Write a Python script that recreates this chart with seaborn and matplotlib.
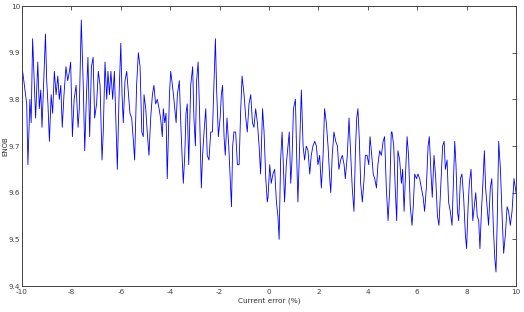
import matplotlib
matplotlib.use("Agg")
import matplotlib.pyplot as plt
import seaborn as sns
import numpy as np
import pandas as pd

# ---- data (Current error %, ENOB) ----
x_seg1 = [-10.00, -9.95, -9.88, -9.81, -9.76, -9.68, -9.63, -9.57, -9.50, -9.45, -9.36, -9.30, -9.24, -9.19, -9.14,
          -9.05, -9.00, -8.95, -8.89, -8.82, -8.76, -8.69, -8.62, -8.55, -8.49, -8.43, -8.37, -8.30, -8.22, -8.15,
          -8.08, -8.03, -7.96, -7.89, -7.81, -7.73, -7.68, -7.60, -7.52, -7.46, -7.39, -7.33, -7.26, -7.19, -7.12,
          -7.06, -6.98, -6.91, -6.84, -6.76, -6.71, -6.64, -6.57, -6.52, -6.46, -6.40, -6.33, -6.26, -6.19, -6.14,
          -6.07, -6.00, -5.95, -5.90, -5.83, -5.76, -5.69, -5.63, -5.56, -5.49, -5.44, -5.36, -5.29, -5.22, -5.15,
          -5.09]
enob_seg1 = [9.87, 9.85, 9.82, 9.79, 9.66, 9.80, 9.75, 9.93, 9.83, 9.76, 9.88, 9.78, 9.82, 9.74, 9.81,
             9.94, 9.84, 9.79, 9.71, 9.81, 9.77, 9.86, 9.81, 9.85, 9.80, 9.83, 9.74, 9.81, 9.87, 9.84,
             9.86, 9.88, 9.72, 9.80, 9.83, 9.74, 9.78, 9.97, 9.83, 9.69, 9.81, 9.89, 9.72, 9.87, 9.89,
             9.76, 9.79, 9.86, 9.83, 9.67, 9.73, 9.88, 9.80, 9.86, 9.81, 9.86, 9.80, 9.86, 9.74, 9.65,
             9.81, 9.92, 9.81, 9.75, 9.84, 9.86, 9.81, 9.77, 9.76, 9.71, 9.67, 9.83, 9.90, 9.87, 9.73,
             9.72]

x_seg2 = [-5.06, -4.99, -4.93, -4.86, -4.79, -4.72, -4.66, -4.59, -4.52, -4.45, -4.39, -4.32, -4.28, -4.22, -4.17,
          -4.12, -4.03, -3.98, -3.91, -3.85, -3.76, -3.71, -3.63, -3.58, -3.52, -3.47, -3.41, -3.36, -3.31, -3.25,
          -3.17, -3.09, -3.04, -2.98, -2.93, -2.87, -2.81, -2.74, -2.69, -2.63, -2.56, -2.50, -2.43, -2.36, -2.29,
          -2.23, -2.17, -2.12, -2.05, -1.98, -1.93, -1.88, -1.82, -1.77, -1.70, -1.63, -1.58, -1.52, -1.47, -1.42,
          -1.35, -1.28, -1.21, -1.15, -1.09, -1.01, -0.94, -0.88, -0.81, -0.74, -0.67, -0.61, -0.54, -0.47, -0.40,
          -0.34, -0.26, -0.20, -0.13, -0.07]
enob_seg2 = [9.81, 9.78, 9.73, 9.68, 9.76, 9.81, 9.83, 9.79, 9.80, 9.78, 9.76, 9.72, 9.78, 9.75, 9.77,
             9.63, 9.81, 9.86, 9.83, 9.80, 9.75, 9.81, 9.84, 9.76, 9.68, 9.62, 9.68, 9.77, 9.79, 9.66,
             9.83, 9.87, 9.76, 9.70, 9.84, 9.88, 9.77, 9.61, 9.68, 9.73, 9.78, 9.68, 9.67, 9.73, 9.73,
             9.83, 9.93, 9.82, 9.72, 9.76, 9.81, 9.83, 9.72, 9.68, 9.76, 9.70, 9.64, 9.57, 9.70, 9.73,
             9.73, 9.66, 9.66, 9.77, 9.85, 9.81, 9.76, 9.73, 9.79, 9.81, 9.75, 9.74, 9.78, 9.75, 9.70,
             9.64, 9.78, 9.73, 9.63, 9.58]

x_seg3 = [-0.04, 0.03, 0.09, 0.16, 0.23, 0.30, 0.36, 0.41, 0.47, 0.53, 0.58, 0.63, 0.70, 0.77, 0.82,
          0.88, 0.93, 0.99, 1.07, 1.12, 1.17, 1.24, 1.31, 1.38, 1.44, 1.51, 1.58, 1.65, 1.71, 1.78,
          1.85, 1.92, 1.98, 2.05, 2.12, 2.19, 2.25, 2.32, 2.39, 2.46, 2.50, 2.56, 2.63, 2.70, 2.77,
          2.83, 2.90, 2.97, 3.04, 3.09, 3.17, 3.24, 3.31, 3.37, 3.44, 3.50, 3.55, 3.60, 3.66, 3.71,
          3.78, 3.85, 3.90, 3.97, 4.04, 4.09, 4.16, 4.22, 4.28, 4.35, 4.41, 4.48, 4.55, 4.62, 4.68,
          4.75, 4.82, 4.89, 4.95]
enob_seg3 = [9.59, 9.66, 9.62, 9.64, 9.65, 9.58, 9.55, 9.50, 9.67, 9.73, 9.66, 9.58, 9.66, 9.70, 9.73,
             9.62, 9.67, 9.78, 9.80, 9.68, 9.58, 9.70, 9.82, 9.70, 9.67, 9.70, 9.69, 9.64, 9.68, 9.70,
             9.71, 9.70, 9.66, 9.68, 9.61, 9.68, 9.78, 9.75, 9.70, 9.63, 9.60, 9.68, 9.73, 9.71, 9.70,
             9.65, 9.67, 9.68, 9.66, 9.63, 9.68, 9.76, 9.68, 9.61, 9.56, 9.69, 9.76, 9.78, 9.71, 9.62,
             9.58, 9.63, 9.68, 9.68, 9.66, 9.72, 9.68, 9.64, 9.63, 9.61, 9.66, 9.69, 9.68, 9.71, 9.72,
             9.61, 9.54, 9.61, 9.73]

x_seg4 = [4.98, 5.05, 5.11, 5.17, 5.22, 5.29, 5.36, 5.41, 5.47, 5.52, 5.59, 5.65, 5.72, 5.79, 5.84,
          5.90, 5.97, 6.03, 6.10, 6.17, 6.24, 6.30, 6.37, 6.44, 6.49, 6.56, 6.61, 6.68, 6.75, 6.82,
          6.88, 6.95, 7.03, 7.09, 7.14, 7.21, 7.27, 7.34, 7.41, 7.46, 7.52, 7.57, 7.63, 7.68, 7.75,
          7.81, 7.88, 7.95, 8.00, 8.06, 8.11, 8.18, 8.25, 8.31, 8.37, 8.43, 8.49, 8.54, 8.60, 8.65,
          8.72, 8.77, 8.83, 8.89, 8.96, 9.02, 9.08, 9.14, 9.19, 9.24, 9.30, 9.37, 9.43, 9.50, 9.57,
          9.64, 9.70, 9.77, 9.84, 9.92, 10.00]
enob_seg4 = [9.73, 9.70, 9.61, 9.54, 9.69, 9.67, 9.62, 9.65, 9.56, 9.63, 9.72, 9.68, 9.57, 9.53, 9.57,
             9.64, 9.63, 9.64, 9.63, 9.61, 9.59, 9.56, 9.61, 9.70, 9.72, 9.64, 9.59, 9.68, 9.63, 9.55,
             9.53, 9.61, 9.70, 9.71, 9.65, 9.67, 9.58, 9.56, 9.53, 9.61, 9.71, 9.66, 9.56, 9.54, 9.63,
             9.64, 9.59, 9.51, 9.48, 9.57, 9.62, 9.65, 9.54, 9.57, 9.60, 9.55, 9.54, 9.48, 9.56, 9.61,
             9.69, 9.61, 9.57, 9.53, 9.61, 9.63, 9.53, 9.46, 9.43, 9.54, 9.71, 9.65, 9.56, 9.47, 9.51,
             9.57, 9.56, 9.53, 9.56, 9.63, 9.60]

x_ticks = [-10, -8, -6, -4, -2, 0, 2, 4, 6, 8, 10]
y_ticks = [9.4, 9.5, 9.6, 9.7, 9.8, 9.9, 10.0]
y_tick_labels = ["9.4", "9.5", "9.6", "9.7", "9.8", "9.9", "10"]

df = pd.DataFrame({
    "current_error": x_seg1 + x_seg2 + x_seg3 + x_seg4,
    "ENOB": enob_seg1 + enob_seg2 + enob_seg3 + enob_seg4,
})

sns.set_style("white")
plt.rcParams["font.family"] = ["DejaVu Sans"]

fig = plt.figure(figsize=(5.24, 3.12), dpi=100)
ax = fig.add_axes([22 / 524, 1 - 286 / 312, (516 - 22) / 524, (286 - 6) / 312])

sns.lineplot(data=df, x="current_error", y="ENOB", ax=ax, sort=False, estimator=None,
             color="#0000ff", linewidth=0.6)

ax.set_xlim(-10, 10)
ax.set_ylim(9.4, 10.0)
ax.set_xticks(x_ticks)
ax.set_xticklabels([str(t) for t in x_ticks])
ax.set_yticks(y_ticks)
ax.set_yticklabels(y_tick_labels)
ax.tick_params(axis="both", direction="in", length=3, width=0.6, colors="#404040",
               labelsize=5.2, top=True, right=True)
ax.tick_params(axis="y", pad=1.2)
ax.tick_params(axis="x", pad=2.5)
for s in ax.spines.values():
    s.set_color("#404040")
    s.set_linewidth(0.7)
ax.set_xlabel("Current error (%)", fontsize=5.3, color="#303030", labelpad=1.5)
ax.set_ylabel("ENOB", fontsize=5.0, color="#303030")
ax.yaxis.set_label_coords(-0.028, 0.5)

fig.savefig("out.png", dpi=100)
